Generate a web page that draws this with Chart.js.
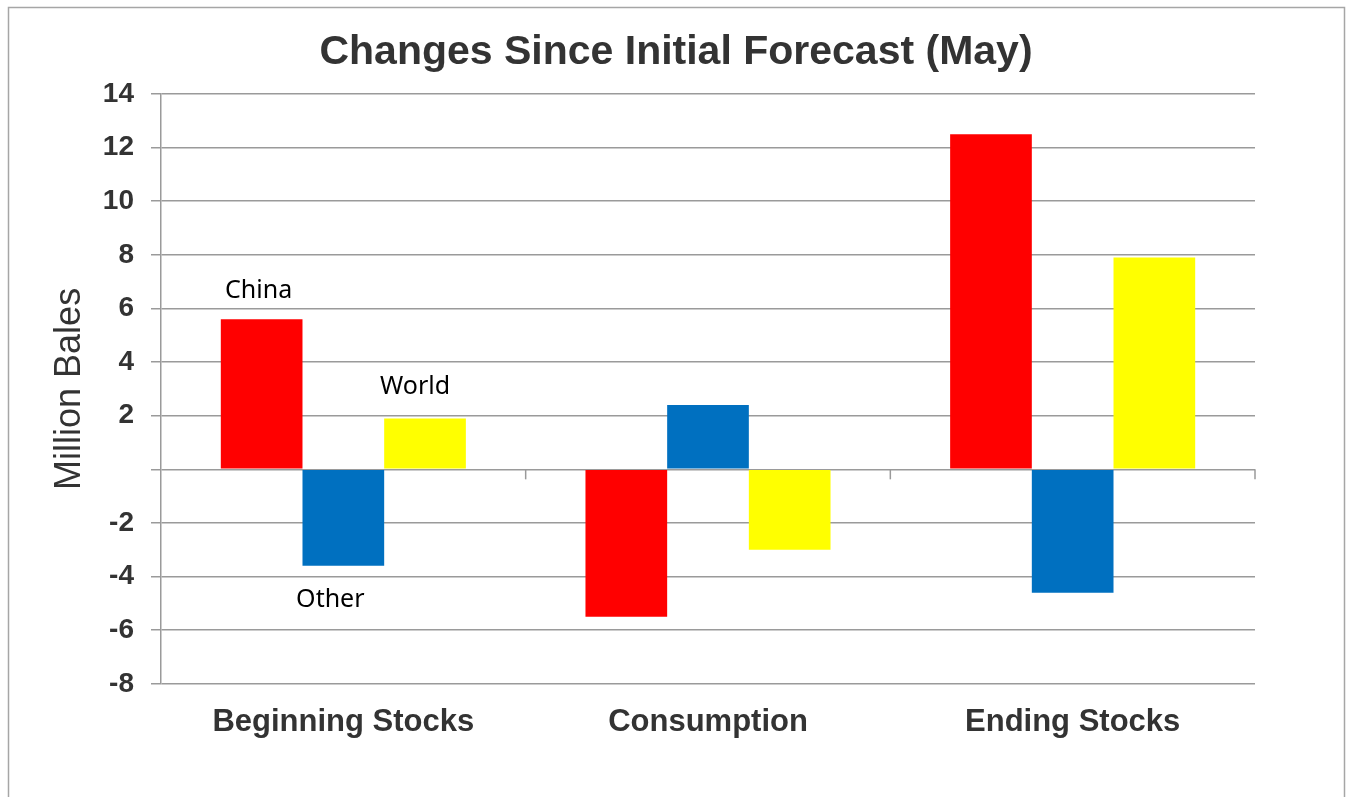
<!DOCTYPE html>
<html lang="en">
<head>
    <meta charset="UTF-8">
    <title>Changes Since Initial Forecast (May)</title>
    <script src="https://cdn.jsdelivr.net/npm/chart.js"></script>
    <style>
        body {
            margin: 0;
            padding: 0;
            background: #fff;
        }
        .chart-box {
            width: 1346px;
            height: 797px;
        }
    </style>
</head>
<body>
    <div class="chart-box">
        <canvas id="changesChart" width="1346" height="797"></canvas>
    </div>

    <script>
        // Chart data (million bales)
        const categories = ['Beginning Stocks', 'Consumption', 'Ending Stocks'];
        const chinaValues = [5.6, -5.5, 12.5];
        const otherValues = [-3.6, 2.4, -4.6];
        const worldValues = [1.9, -3.0, 7.9];
        const seriesNames = ['China', 'Other', 'World'];

        const gridGray = '#9a9a9a';
        const textGray = '#333333';
        const titleText = 'Changes Since Initial Forecast (May)';

        // Outer frame and title (title is centred on the whole frame, not the plot)
        const framePlugin = {
            id: 'frame',
            beforeDraw(chart) {
                const ctx = chart.ctx;
                ctx.save();
                ctx.fillStyle = '#fff';
                ctx.fillRect(0, 0, chart.width, chart.height);
                ctx.strokeStyle = '#a6a6a6';
                ctx.lineWidth = 1.5;
                ctx.strokeRect(8.5, 7.5, 1336, 900);
                ctx.fillStyle = textGray;
                ctx.font = 'bold 41px "Liberation Sans", Arial, sans-serif';
                ctx.textAlign = 'center';
                ctx.textBaseline = 'middle';
                ctx.fillText(titleText, 676, 53);
                ctx.restore();
            }
        };

        // Category divider ticks on the zero line
        const zeroTicksPlugin = {
            id: 'zeroTicks',
            afterDraw(chart) {
                const x = chart.scales.x;
                const y0 = chart.scales.y.getPixelForValue(0);
                const half = (x.getPixelForValue(1) - x.getPixelForValue(0)) / 2;
                const ctx = chart.ctx;
                ctx.save();
                ctx.strokeStyle = gridGray;
                ctx.lineWidth = 1.5;
                for (let i = 0; i < categories.length; i++) {
                    const px = x.getPixelForValue(i) + half;
                    ctx.beginPath();
                    ctx.moveTo(px, y0);
                    ctx.lineTo(px, y0 + 10);
                    ctx.stroke();
                }
                ctx.restore();
            }
        };

        // Series names written next to the first group of bars
        const labelOffsets = [
            { dx: -3, dy: -28 },
            { dx: -13, dy: 34 },
            { dx: -10, dy: -32 }
        ];
        const seriesLabelPlugin = {
            id: 'seriesLabels',
            afterDatasetsDraw(chart) {
                const ctx = chart.ctx;
                ctx.save();
                ctx.font = '25px "Noto Sans"';
                ctx.fillStyle = '#000';
                ctx.textAlign = 'center';
                ctx.textBaseline = 'middle';
                seriesNames.forEach((name, i) => {
                    const bar = chart.getDatasetMeta(i).data[0];
                    ctx.fillText(name, bar.x + labelOffsets[i].dx, bar.y + labelOffsets[i].dy);
                });
                ctx.restore();
            }
        };

        const ctx = document.getElementById('changesChart').getContext('2d');
        new Chart(ctx, {
            type: 'bar',
            data: {
                labels: categories,
                datasets: [
                    { label: seriesNames[0], data: chinaValues, backgroundColor: '#ff0000' },
                    { label: seriesNames[1], data: otherValues, backgroundColor: '#0070c0' },
                    { label: seriesNames[2], data: worldValues, backgroundColor: '#ffff00' }
                ]
            },
            options: {
                responsive: false,
                animation: false,
                categoryPercentage: 0.672,
                barPercentage: 1.0,
                layout: {
                    padding: { left: 44, right: 91, top: 94, bottom: 36 }
                },
                plugins: {
                    legend: { display: false },
                    tooltip: { enabled: false },
                    title: { display: false }
                },
                scales: {
                    x: {
                        grid: { display: false, drawTicks: false, tickLength: 0 },
                        border: { display: false },
                        ticks: {
                            color: textGray,
                            padding: 20,
                            font: { family: '"Liberation Sans", Arial, sans-serif', size: 31, weight: 'bold' }
                        }
                    },
                    y: {
                        min: -8,
                        max: 14,
                        afterFit(scale) { scale.width = 117; },
                        ticks: {
                            stepSize: 2,
                            color: textGray,
                            padding: 17,
                            font: { family: '"Liberation Sans", Arial, sans-serif', size: 28, weight: 'bold' },
                            callback: v => (v === 0 ? '' : v)
                        },
                        grid: { color: gridGray, lineWidth: 1.5, tickLength: 10 },
                        border: { display: true, color: gridGray, width: 1.5 },
                        title: {
                            display: true,
                            text: 'Million Bales',
                            color: textGray,
                            padding: 4,
                            font: { family: '"Liberation Sans", Arial, sans-serif', size: 36 }
                        }
                    }
                }
            },
            plugins: [framePlugin, zeroTicksPlugin, seriesLabelPlugin]
        });
    </script>
</body>
</html>
